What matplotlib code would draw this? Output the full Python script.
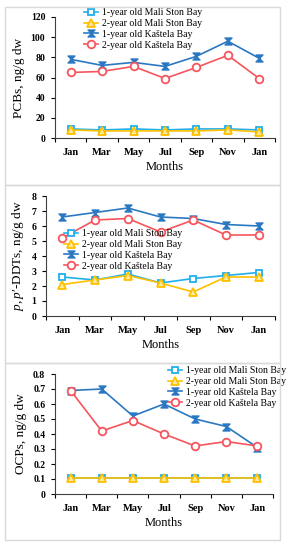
import matplotlib
matplotlib.use('Agg')
import matplotlib.pyplot as plt
import numpy as np
from matplotlib.patches import Rectangle
from matplotlib.path import Path
from matplotlib.ticker import FixedLocator, FuncFormatter

plt.rcParams['font.family'] = ['Liberation Serif', 'DejaVu Serif']
plt.rcParams['mathtext.fontset'] = 'custom'
plt.rcParams['mathtext.rm'] = 'Liberation Serif'
plt.rcParams['mathtext.it'] = 'Liberation Serif:italic'

months = ['Jan', 'Mar', 'May', 'Jul', 'Sep', 'Nov', 'Jan']
series_names = ['1-year old Mali Ston Bay', '2-year old Mali Ston Bay',
                '1-year old Kaštela Bay', '2-year old Kaštela Bay']

# PCBs, ng/g dw
pcb_ms1 = [9, 8, 9, 8, 9, 9, 8]
pcb_ms2 = [8, 7, 7, 7, 7, 8, 6]
pcb_k1 = [78, 72, 75, 71, 81, 96, 79]
pcb_k2 = [65, 66, 71, 59, 70, 82, 59]

# p,p'-DDTs, ng/g dw
ddt_ms1 = [2.6, 2.4, 2.8, 2.2, 2.5, 2.7, 2.9]
ddt_ms2 = [2.1, 2.4, 2.7, 2.2, 1.6, 2.6, 2.6]
ddt_k1 = [6.6, 6.9, 7.2, 6.6, 6.5, 6.1, 6.0]
ddt_k2 = [5.2, 6.4, 6.5, 5.6, 6.4, 5.4, 5.4]

# OCPs, ng/g dw
ocp_ms1 = [0.11, 0.11, 0.11, 0.11, 0.11, 0.11, 0.11]
ocp_ms2 = [0.11, 0.11, 0.11, 0.11, 0.11, 0.11, 0.11]
ocp_k1 = [0.69, 0.70, 0.52, 0.60, 0.50, 0.45, 0.31]
ocp_k2 = [0.69, 0.42, 0.49, 0.40, 0.32, 0.35, 0.32]

W, H = 287, 550
fig = plt.figure(figsize=(W / 100, H / 100), dpi=100)
fig.patch.set_facecolor('white')


def px_rect(left, top, right, bottom):
    return [left / W, 1 - bottom / H, (right - left) / W, (bottom - top) / H]


# panel frames
for top, bottom in [(7, 185), (185, 363), (363, 540)]:
    fig.patches.append(Rectangle((5 / W, 1 - bottom / H), 275 / W, (bottom - top) / H,
                                 transform=fig.transFigure, fill=False,
                                 edgecolor='#d9d9d9', linewidth=1.0))

hourglass = Path([(-1, 1), (1, 1), (-1, -1), (1, -1), (-1, 1)],
                 [Path.MOVETO, Path.LINETO, Path.LINETO, Path.LINETO, Path.CLOSEPOLY])

styles = [
    dict(color='#1fb0ec', marker='s', mfc='white', mec='#1fb0ec', ms=5, mew=1.3),
    dict(color='#ffc000', marker='^', mfc='#ffe9a0', mec='#ffc000', ms=5.5, mew=1.3),
    dict(color='#2a78c2', marker=hourglass, mfc='#2a78c2', mec='#2a78c2', ms=5, mew=1.0),
    dict(color='#f5555d', marker='o', mfc='white', mec='#f5555d', ms=5.5, mew=1.3),
]

panels = [
    dict(rect=(55, 17, 275, 138), data=[pcb_ms1, pcb_ms2, pcb_k1, pcb_k2],
         ymax=120, step=20, ylabel='PCBs, ng/g dw', leg=(84, 8)),
    dict(rect=(46, 196, 275, 316), data=[ddt_ms1, ddt_ms2, ddt_k1, ddt_k2],
         ymax=8, step=1, ylabel=r'$\mathit{p,p}$′-DDTs, ng/g dw', leg=(64, 229)),
    dict(rect=(55, 374, 273, 494), data=[ocp_ms1, ocp_ms2, ocp_k1, ocp_k2],
         ymax=0.8, step=0.1, ylabel='OCPs, ng/g dw', leg=(168, 366)),
]

x = np.arange(len(months))
for p in panels:
    ax = fig.add_axes(px_rect(*p['rect']))
    for vals, name, st in zip(p['data'], series_names, styles):
        ax.plot(x, vals, linewidth=1.2, label=name, **st)
    ax.set_xlim(-0.5, len(months) - 0.5)
    ax.set_ylim(0, p['ymax'])
    ax.set_yticks(np.arange(0, p['ymax'] + p['step'] / 2, p['step']))
    ax.yaxis.set_major_formatter(FuncFormatter(lambda v, _: f'{round(v, 2):g}'))
    ax.set_xticks(x)
    ax.set_xticklabels(months, fontweight='bold', fontsize=7.5)
    ax.xaxis.set_minor_locator(FixedLocator(np.arange(-0.5, len(months), 1.0)))
    ax.tick_params(axis='x', which='major', length=0, pad=7)
    ax.tick_params(axis='x', which='minor', length=3, width=0.8, direction='out')
    ax.tick_params(axis='y', length=3, width=0.8, direction='out', pad=4, labelsize=7)
    for lab in ax.get_yticklabels():
        lab.set_fontweight('bold')
    for side in ['top', 'right']:
        ax.spines[side].set_visible(False)
    for side in ['left', 'bottom']:
        ax.spines[side].set_linewidth(0.8)
        ax.spines[side].set_color('#404040')
    ax.set_xlabel('Months', fontsize=9, labelpad=3)
    ax.set_ylabel(p['ylabel'], fontsize=9.5, labelpad=4)
    lx, ly = p['leg']
    ax.legend(loc='upper left', bbox_to_anchor=(lx / W, 1 - ly / H),
              bbox_transform=fig.transFigure, frameon=False, fontsize=7,
              handlelength=1.4, handletextpad=0.4, labelspacing=0.2,
              borderpad=0, borderaxespad=0)

fig.savefig('out.png', dpi=100, facecolor='white')
